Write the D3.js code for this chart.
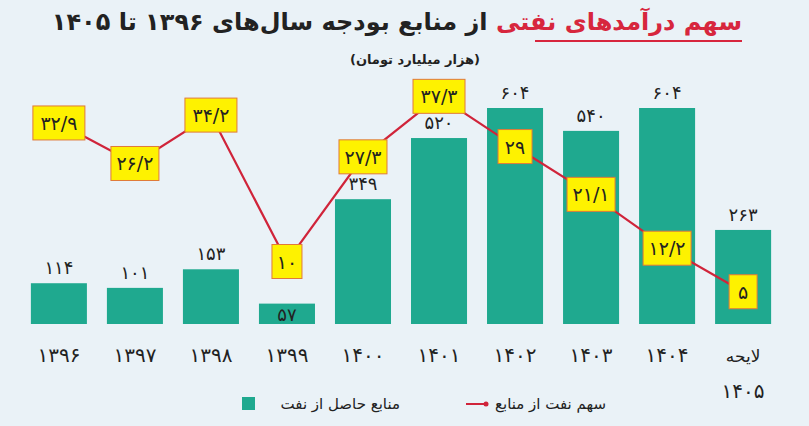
<!DOCTYPE html>
<html><head><meta charset="utf-8">
<script src="https://cdn.jsdelivr.net/npm/d3@7"></script>
<style>body{margin:0;background:#eaf2f7}svg{display:block}text{font-family:"DejaVu Sans",sans-serif}</style>
</head><body><svg id="c" width="809" height="426"></svg>
<script>
// data
var years = ["۱۳۹۶","۱۳۹۷","۱۳۹۸","۱۳۹۹","۱۴۰۰","۱۴۰۱","۱۴۰۲","۱۴۰۳","۱۴۰۴","لایحه\n۱۴۰۵"];
var resources = [114,101,153,57,349,520,604,540,604,263];
var oilShare = [32.9,26.2,34.2,10,27.3,37.3,29,21.1,12.2,5];

var fa = function (v) {
  return String(v).replace(".", "/").replace(/\d/g, function (d) { return "۰۱۲۳۴۵۶۷۸۹"[+d]; });
};

var svg = d3.select("#c");
svg.append("rect").attr("width",809).attr("height",426).attr("fill","#eaf2f7");

var x = d3.scaleBand().domain(d3.range(years.length)).range([21,781]).paddingInner(0.263).paddingOuter(0.13);
var yB = d3.scaleLinear().domain([0,604]).range([324,108]);
var yL = d3.scaleLinear().domain([0,40]).range([322,80]);

// title
var t = svg.append("text").attr("x",742).attr("y",30).attr("direction","rtl").attr("text-anchor","start")
  .attr("font-size",24).attr("font-weight","bold");
t.append("tspan").attr("fill","#d7263d").text("سهم درآمدهای نفتی");
t.append("tspan").attr("fill","#222").text(" از منابع بودجه سال‌های ۱۳۹۶ تا ۱۴۰۵");
svg.append("line").attr("x1",535).attr("x2",742).attr("y1",41).attr("y2",41).attr("stroke","#d7263d").attr("stroke-width",2);
svg.append("text").attr("x",480).attr("y",64).attr("direction","rtl").attr("text-anchor","start")
  .attr("font-size",13).attr("font-weight","bold").attr("fill","#222").text("(هزار میلیارد تومان)");

// bars
svg.selectAll("rect.bar").data(resources).enter().append("rect").attr("class","bar")
  .attr("x",function(d,i){return x(i);}).attr("width",x.bandwidth())
  .attr("y",function(d){return yB(d);}).attr("height",function(d){return yB(0)-yB(d);})
  .attr("fill","#1fa98f");
svg.selectAll("text.bv").data(resources).enter().append("text").attr("class","bv")
  .attr("x",function(d,i){return x(i)+x.bandwidth()/2;})
  .attr("y",function(d,i){return i===3 ? yB(d)+17 : yB(d)-9;})
  .attr("text-anchor","middle").attr("font-size",18).attr("fill","#222").text(function(d){return fa(d);});

// x labels
years.forEach(function(y,i){
  var parts = y.split("\n");
  parts.forEach(function(p,k){
    svg.append("text").attr("x",x(i)+x.bandwidth()/2).attr("y",362+k*36).attr("text-anchor","middle")
      .attr("font-size", k===0 && parts.length>1 ? 17 : 20).attr("fill","#222").text(p);
  });
});

// line
var cx = function(i){return x(i)+x.bandwidth()/2;};
svg.append("path").datum(oilShare)
  .attr("d", d3.line().x(function(d,i){return cx(i);}).y(function(d){return yL(d);}))
  .attr("fill","none").attr("stroke","#d0243a").attr("stroke-width",2.2);
var bw = [52,48,52,30,48,52,34,48,48,28];
var g = svg.selectAll("g.box").data(oilShare).enter().append("g").attr("class","box");
g.append("rect").attr("x",function(d,i){return cx(i)-bw[i]/2;}).attr("y",function(d){return yL(d)-17;})
  .attr("width",function(d,i){return bw[i];}).attr("height",34)
  .attr("fill","#fef200").attr("stroke","#e07a3a").attr("stroke-width",1);
g.append("text").attr("x",function(d,i){return cx(i);}).attr("y",function(d){return yL(d)+7;})
  .attr("text-anchor","middle").attr("font-size",19).attr("fill","#222").text(function(d){return fa(d);});

// legend
svg.append("rect").attr("x",242).attr("y",397).attr("width",13).attr("height",13).attr("fill","#1fa98f");
svg.append("text").attr("x",400).attr("y",409).attr("direction","rtl").attr("text-anchor","start")
  .attr("font-size",15).attr("fill","#222").text("منابع حاصل از نفت");
svg.append("line").attr("x1",466).attr("x2",486).attr("y1",404).attr("y2",404).attr("stroke","#d0243a").attr("stroke-width",2);
svg.append("circle").attr("cx",486).attr("cy",404).attr("r",2.5).attr("fill","#d0243a");
svg.append("text").attr("x",606).attr("y",409).attr("direction","rtl").attr("text-anchor","start")
  .attr("font-size",15).attr("fill","#222").text("سهم نفت از منابع");
</script></body></html>
